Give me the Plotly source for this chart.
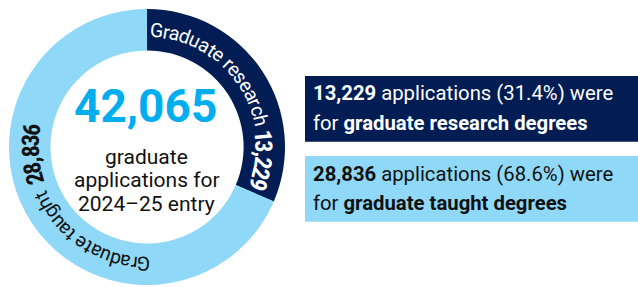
import math
import plotly.graph_objects as go

# ---------------- data ----------------
categories = ["Graduate research", "Graduate taught"]
values = [13229, 28836]
degree_labels = ["graduate research degrees", "graduate taught degrees"]
center_lines = ["graduate", "applications for", "2024–25 entry"]

# ---------------- style ----------------
W, H = 638, 287
NAVY = "#021C54"
LIGHT = "#8FD8F7"
CYAN = "#00AEEF"
DARK = "#111111"
colors = [NAVY, LIGHT]
text_colors = ["white", DARK]
FONT = "Roboto, 'Open Sans', sans-serif"
NUMFONT = "'Liberation Sans Narrow', 'Roboto Condensed', 'DejaVu Sans Condensed', Roboto, sans-serif"

CX, CY, R = 147, 147, 138
HOLE = 0.70
RT = 116.5  # radius of the curved labels

total = sum(values)
shares = [v / total * 100 for v in values]


def px(x):
    return x / W


def py(y):
    return 1 - y / H


fig = go.Figure(
    go.Pie(
        labels=categories,
        values=values,
        sort=False,
        direction="clockwise",
        rotation=0,
        hole=HOLE,
        marker=dict(colors=colors, line=dict(width=0)),
        textinfo="none",
        hoverinfo="skip",
        showlegend=False,
        domain=dict(x=[px(CX - R), px(CX + R)], y=[py(CY + R), py(CY - R)]),
    )
)

# approximate advance widths (em)
REG = {"G": 0.668, "r": 0.339, "a": 0.544, "d": 0.551, "u": 0.550, "t": 0.327,
       "e": 0.517, " ": 0.248, "s": 0.516, "c": 0.523, "h": 0.551, "g": 0.561}
NARROW = {",": 0.228}
NARROW_DIGIT = 0.456

annotations = []


def arc_text(text, start_deg, r, size, family, widths, default_w, color, bold=False):
    s = 0.0
    for ch in text:
        w = widths.get(ch, default_w) * size
        if ch != " ":
            th = start_deg + math.degrees((s + w / 2) / r)
            t = math.radians(th)
            x = CX + r * math.sin(t)
            y = CY - r * math.cos(t)
            ang = ((th + 180) % 360) - 180
            annotations.append(dict(
                text=f"<b>{ch}</b>" if bold else ch,
                x=px(x), y=py(y), xref="paper", yref="paper",
                showarrow=False, textangle=ang,
                xanchor="center", yanchor="middle",
                font=dict(family=family, size=size, color=color),
            ))
        s += w
    return start_deg + math.degrees(s / r)


def arc_len_deg(text, size, widths, default_w, r):
    return math.degrees(sum(widths.get(c, default_w) * size for c in text) / r)


LBL = 19.5
NUM = 24
end_research = 360 * values[0] / total

# research segment
arc_text(categories[0], 1.5, RT, LBL, FONT, REG, 0.55, "white")
n0 = f"{values[0]:,}"
n0_len = arc_len_deg(n0, NUM, NARROW, NARROW_DIGIT, RT)
arc_text(n0, end_research - 1.8 - n0_len, RT, NUM, NUMFONT, NARROW, NARROW_DIGIT, "white", bold=True)

# taught segment
end_lbl = arc_text(categories[1], 178.5, RT, LBL, FONT, REG, 0.55, DARK)
n1 = f"{values[1]:,}"
arc_text(n1, end_lbl + 4.5, RT, NUM, NUMFONT, NARROW, NARROW_DIGIT, DARK, bold=True)

# centre text
annotations.append(dict(text=f"<b>{total:,}</b>", x=px(145.5), y=py(106), xref="paper", yref="paper",
                        showarrow=False, xanchor="center", yanchor="middle",
                        font=dict(family=FONT, size=46, color=CYAN)))
for line, base in zip(center_lines, [163, 186.7, 210.3]):
    annotations.append(dict(text=line, x=px(146.5), y=py(base - 6.3), xref="paper", yref="paper",
                            showarrow=False, xanchor="center", yanchor="middle",
                            font=dict(family=FONT, size=21, color="#111111")))

# right-hand boxes
boxes = [(76, 141.7), (156, 221.7)]
baselines = [(99.3, 129.3), (180, 209.3)]
shapes = []
for i in range(2):
    y0, y1 = boxes[i]
    shapes.append(dict(type="rect", xref="paper", yref="paper", x0=px(305), x1=px(638),
                       y0=py(y1), y1=py(y0), fillcolor=colors[i], line=dict(width=0), layer="below"))
    l1 = f"<b>{values[i]:,}</b> applications ({shares[i]:.1f}%) were"
    l2 = f"for <b>{degree_labels[i]}</b>"
    for txt, b in zip([l1, l2], baselines[i]):
        annotations.append(dict(text=txt, x=px(311), y=py(b - 6.3), xref="paper", yref="paper",
                                showarrow=False, xanchor="left", yanchor="middle",
                                font=dict(family=FONT, size=20.3, color=text_colors[i])))

fig.update_layout(
    width=W, height=H,
    margin=dict(l=0, r=0, t=0, b=0),
    paper_bgcolor="white", plot_bgcolor="white",
    annotations=annotations,
    shapes=shapes,
    showlegend=False,
)

fig.write_html("out.html", config={"displayModeBar": False, "staticPlot": True},
               post_script="document.body.style.margin='0';document.body.style.overflow='hidden';")
